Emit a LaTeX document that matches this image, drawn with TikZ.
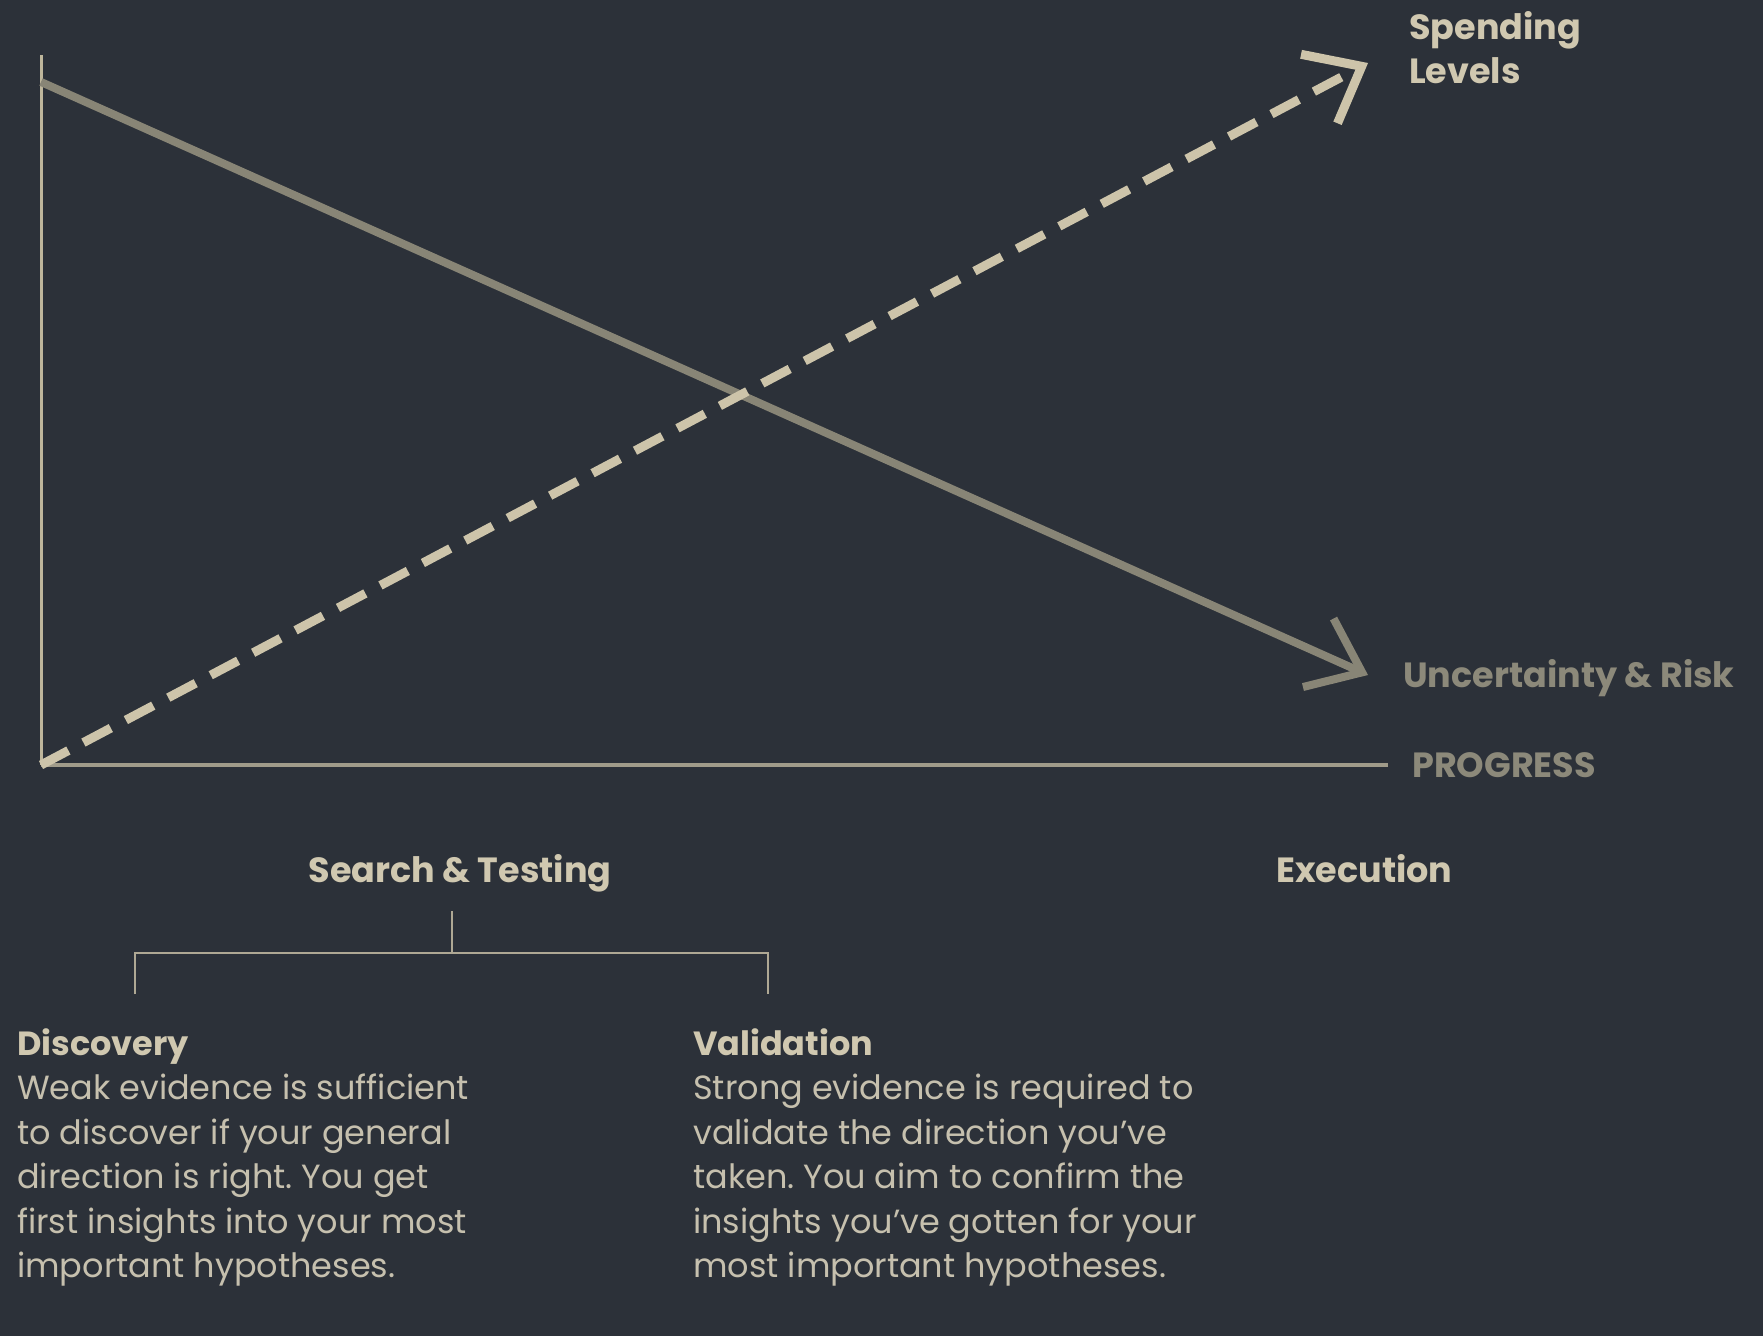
\documentclass[tikz,border=0pt]{standalone}
\usepackage{fontspec}
\setmainfont{Poppins}
\usetikzlibrary{arrows.meta}
\definecolor{bg}{RGB}{44,49,57}
\definecolor{solidc}{RGB}{136,133,118}
\definecolor{dashc}{RGB}{205,196,170}
\definecolor{axisvc}{RGB}{190,182,156}
\definecolor{axishc}{RGB}{160,155,138}
\definecolor{headc}{RGB}{208,200,176}
\definecolor{grayc}{RGB}{140,137,122}
\definecolor{bodyc}{RGB}{198,192,174}
\definecolor{brkc}{RGB}{175,168,148}
\tikzset{
  axisv/.style={draw=axisvc, line width=3pt},
  axish/.style={draw=axishc, line width=3.5pt},
  solidl/.style={draw=solidc, line width=8pt, -{Straight Barb[length=48pt,width=75pt]}},
  dashl/.style={draw=dashc, line width=9pt, dash pattern=on 31pt off 17pt, -{Straight Barb[length=48pt,width=78pt]}},
  brk/.style={draw=brkc, line width=2.5pt},
  lbl/.style={anchor=base west, inner sep=0pt, font=\bfseries\fontsize{35}{44}\selectfont},
  para/.style={anchor=base west, inner sep=0pt, align=left, text=bodyc, font=\frenchspacing\fontsize{33.5}{44.5}\selectfont},
}
\begin{document}
\begin{tikzpicture}[x=1pt,y=-1pt]
\useasboundingbox (0,0) rectangle (1763,1336);
\fill[bg] (0,0) rectangle (1763,1336);
% axes
\coordinate (O) at (41,765);
\coordinate (Ytop) at (41,55);
\coordinate (Xend) at (1388,765);
\coordinate (Sstart) at (41,82);
\coordinate (Send) at (1368,675);
\coordinate (Dend) at (1368,63);
\draw[axisv] (O) -- (Ytop);
\draw[axish] (O) -- (Xend);
\draw[solidl] (Sstart) -- (Send);
\draw[dashl] (O) -- (Dend);
% labels (base anchor of a multi-line node = last line's baseline)
\node[lbl, text=headc, align=left] (spend) at (1409,83) {Spending\\Levels};
\node[lbl, text=grayc] (unc) at (1403,687) {Uncertainty \& Risk};
\node[lbl, text=grayc] (prog) at (1412,777) {PROGRESS};
\node[lbl, text=headc, anchor=base] (search) at (460,882) {Search \& Testing};
\node[lbl, text=headc] (exec) at (1276,882) {Execution};
% bracket
\coordinate (bstem) at (452,911);
\coordinate (bmid) at (452,953);
\coordinate (bl) at (135,953);
\coordinate (bld) at (135,994);
\coordinate (br) at (768,953);
\coordinate (brd) at (768,994);
\draw[brk] (bstem) -- (bmid);
\draw[brk] (bld) -- (bl) -- (br) -- (brd);
% paragraphs
\node[para] (disc) at (17,1277.5) {\textcolor{headc}{\bfseries Discovery}\\Weak evidence is sufficient\\to discover if your general\\direction is right. You get\\first insights into your most\\important hypotheses.};
\node[para] (val) at (693,1277.5) {\textcolor{headc}{\bfseries Validation}\\Strong evidence is required to\\validate the direction you’ve\\taken. You aim to confirm the\\insights you’ve gotten for your\\most important hypotheses.};
\end{tikzpicture}
\end{document}
